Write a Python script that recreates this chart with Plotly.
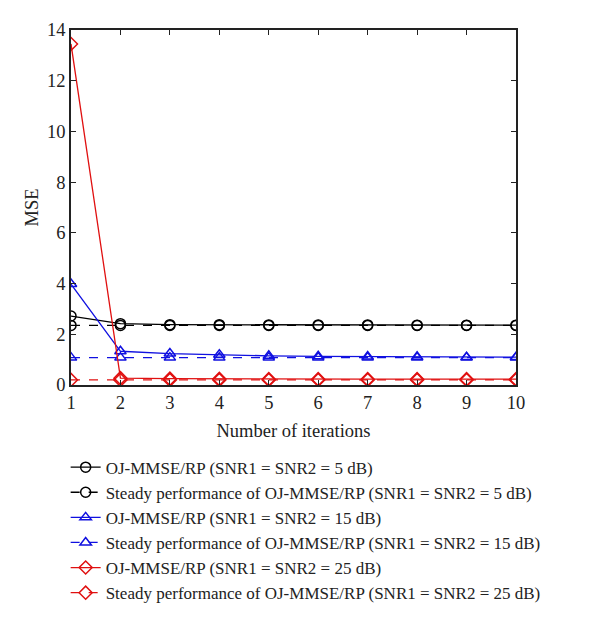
import plotly.graph_objects as go

iterations = [1, 2, 3, 4, 5, 6, 7, 8, 9, 10]
oj_5db = [2.72, 2.42, 2.38, 2.38, 2.37, 2.37, 2.37, 2.36, 2.36, 2.36]
steady_5db = [2.35] * 10
oj_15db = [3.98, 1.33, 1.24, 1.19, 1.15, 1.13, 1.12, 1.11, 1.10, 1.10]
steady_15db = [1.08] * 10
oj_25db = [13.45, 0.27, 0.25, 0.24, 0.23, 0.23, 0.23, 0.23, 0.23, 0.23]
steady_25db = [0.20] * 10

names = [
    "OJ-MMSE/RP (SNR1 = SNR2 = 5 dB)",
    "Steady performance of OJ-MMSE/RP (SNR1 = SNR2 = 5 dB)",
    "OJ-MMSE/RP (SNR1 = SNR2 = 15 dB)",
    "Steady performance of OJ-MMSE/RP (SNR1 = SNR2 = 15 dB)",
    "OJ-MMSE/RP (SNR1 = SNR2 = 25 dB)",
    "Steady performance of OJ-MMSE/RP (SNR1 = SNR2 = 25 dB)",
]
series = [oj_5db, steady_5db, oj_15db, steady_15db, oj_25db, steady_25db]
colors = ["black", "black", "#1010e0", "#1010e0", "#e01010", "#e01010"]
symbols = ["circle-open", "circle-open", "triangle-up-open", "triangle-up-open",
           "diamond-open", "diamond-open"]
dashes = ["solid", "dash", "solid", "dash", "solid", "dash"]

fig = go.Figure()
for n, s, c, sym, d in zip(names, series, colors, symbols, dashes):
    fig.add_trace(go.Scatter(
        x=iterations, y=s, name=n, mode="lines+markers",
        line=dict(color=c, width=1.3, dash=d),
        marker=dict(symbol=sym, size=10, color=c, line=dict(width=1.5, color=c)),
    ))

font = "Liberation Serif"
fs = 18.5
axis_common = dict(
    showline=True, linecolor="#222", linewidth=1.5, mirror="ticks",
    ticks="inside", ticklen=5, tickwidth=1.2, tickcolor="#222",
    showgrid=False, zeroline=False,
    tickfont=dict(family=font, size=fs, color="#222"),
)
fig.update_xaxes(range=[1, 10], tickvals=iterations,
                 title=dict(text="Number of iterations", font=dict(family=font, size=fs, color="#222"), standoff=12),
                 **axis_common)
fig.update_yaxes(range=[0, 14], tickvals=[0, 2, 4, 6, 8, 10, 12, 14],
                 title=dict(text="MSE", font=dict(family=font, size=fs, color="#222"), standoff=4),
                 **axis_common)

fig.update_layout(
    width=600, height=617,
    margin=dict(l=63, r=92, t=22, b=240, autoexpand=False),
    plot_bgcolor="white", paper_bgcolor="white",
    font=dict(family=font, size=fs, color="#222"),
    legend=dict(x=-0.012, y=-0.182, xanchor="left", yanchor="top",
                font=dict(family=font, size=17, color="#222"),
                bgcolor="rgba(0,0,0,0)", tracegroupgap=0, itemwidth=30),
    showlegend=True,
)

fig.write_html("out.html")
